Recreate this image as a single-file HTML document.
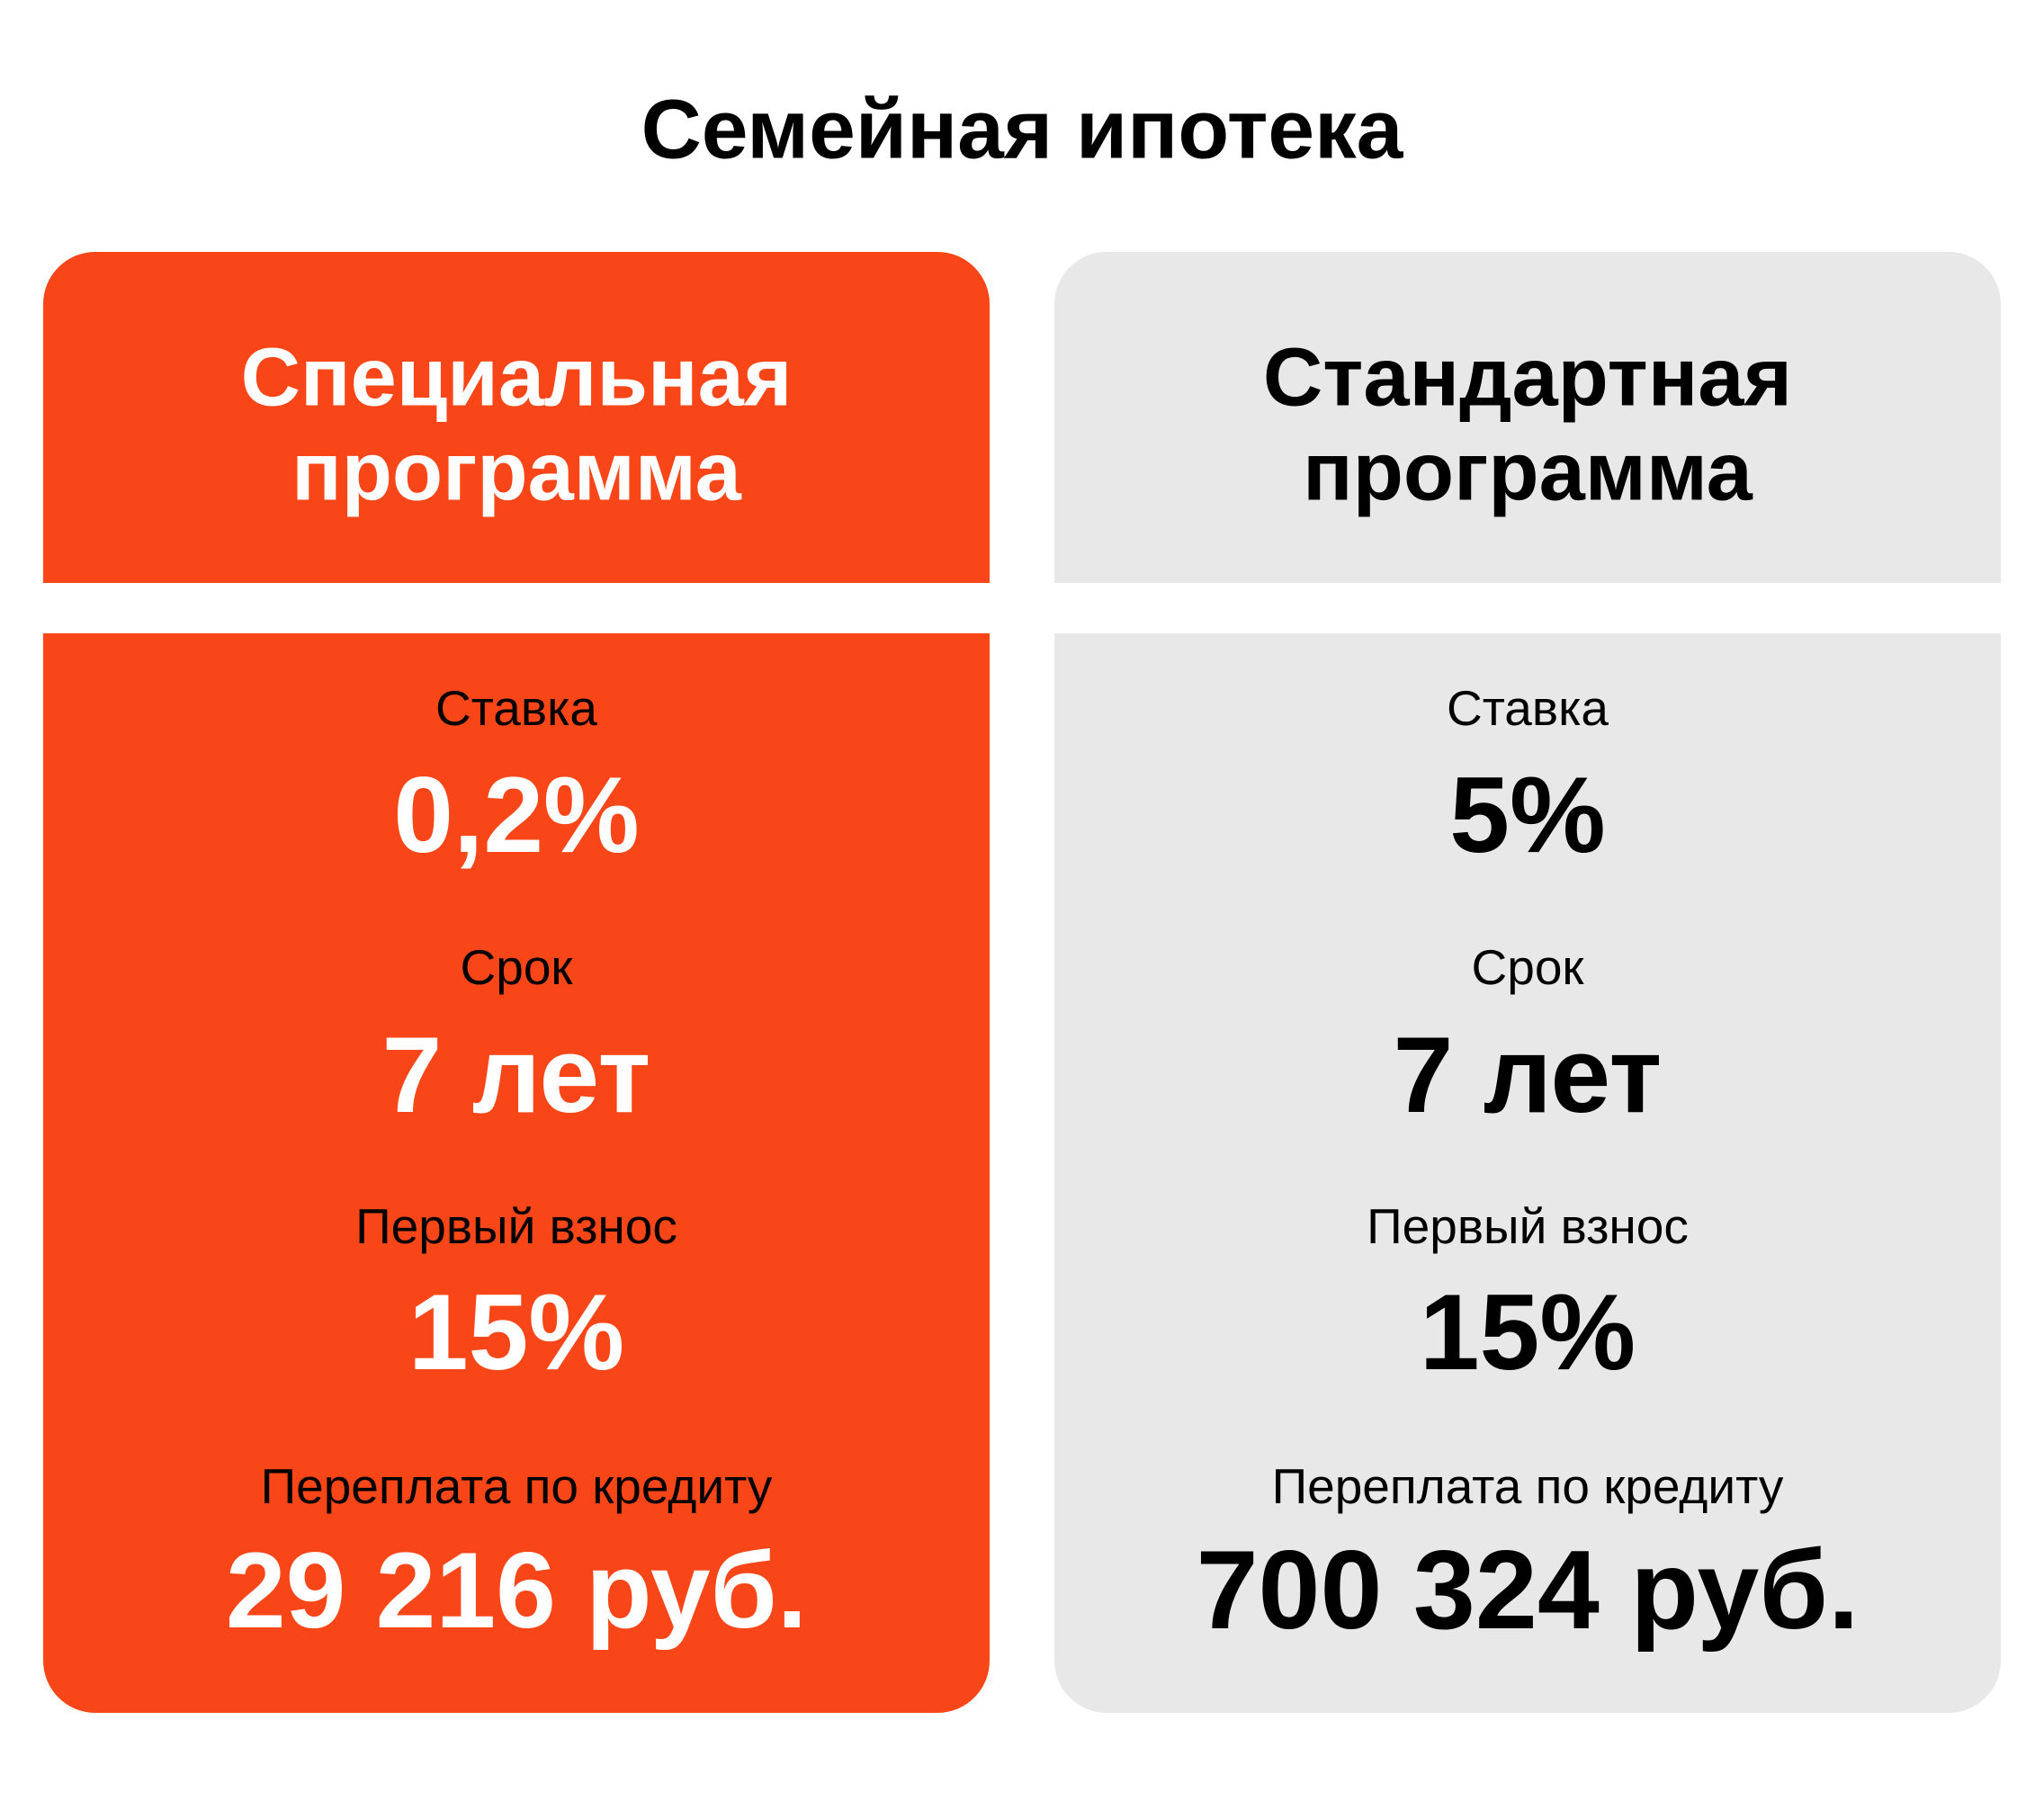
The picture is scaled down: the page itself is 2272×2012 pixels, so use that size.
<!DOCTYPE html>
<html><head><meta charset="utf-8"><style>
body{margin:0;width:2272px;height:2012px;background:#fff;position:relative;font-family:"Liberation Sans","DejaVu Sans",sans-serif;overflow:hidden}
.t{position:absolute;left:0;width:100%;text-align:center;transform:translateY(-50%);white-space:nowrap}
.panel{position:absolute;width:1052px}
.hd{top:280px;height:368px;border-radius:58px 58px 0 0}
.bd{top:704px;height:1200px;border-radius:0 0 58px 58px}
.o{background:#F94618;color:#fff}
.g{background:#E8E8E8;color:#000}
.h{font-weight:bold;font-size:92px}
.l{font-size:55px;color:#000}
.v{font-weight:bold;font-size:120px}
.v2{font-weight:bold;font-size:124px}
</style></head><body>
<div class="t" style="top:144px;font-weight:bold;font-size:93px">Семейная ипотека</div>

<div class="panel hd o" style="left:48px">
<div class="t h" style="top:140px">Специальная</div>
<div class="t h" style="top:245px">программа</div>
</div>
<div class="panel bd o" style="left:48px">
<div class="t l" style="top:83px">Ставка</div>
<div class="t v" style="top:202px">0,2%</div>
<div class="t l" style="top:371px">Срок</div>
<div class="t v" style="top:491px">7 лет</div>
<div class="t l" style="top:659px">Первый взнос</div>
<div class="t v" style="top:777px">15%</div>
<div class="t l" style="top:948px">Переплата по кредиту</div>
<div class="t v" style="top:1064px">29 216 руб.</div>
</div>

<div class="panel hd g" style="left:1172px">
<div class="t h" style="top:140px">Стандартная</div>
<div class="t h" style="top:245px">программа</div>
</div>
<div class="panel bd g" style="left:1172px">
<div class="t l" style="top:83px">Ставка</div>
<div class="t v" style="top:202px">5%</div>
<div class="t l" style="top:371px">Срок</div>
<div class="t v" style="top:491px">7 лет</div>
<div class="t l" style="top:659px">Первый взнос</div>
<div class="t v" style="top:777px">15%</div>
<div class="t l" style="top:948px">Переплата по кредиту</div>
<div class="t v2" style="top:1064px">700 324 руб.</div>
</div>
</body></html>
